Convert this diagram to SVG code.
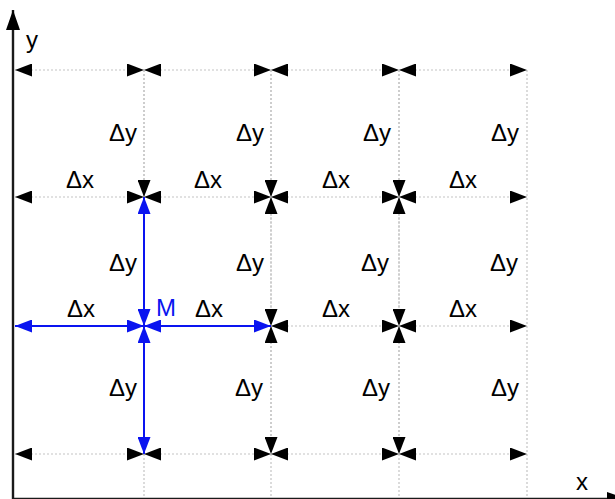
<svg xmlns="http://www.w3.org/2000/svg" width="615" height="499" viewBox="0 0 615 499">
<style>
.grid{stroke:#c4c4c4;stroke-width:1.2;stroke-dasharray:2,2;fill:none}
.dim{stroke:#c4c4c4;stroke-width:1.2;stroke-dasharray:2,2;fill:none}
.blue{stroke:#0a14f0;stroke-width:2;fill:none}
.axis{stroke:#1a1a1a;stroke-width:2.4;fill:none}
text{font-family:"Liberation Sans",Arial,sans-serif;font-size:24px;fill:#000}
.lx{text-anchor:middle}
.m{fill:#0a14f0}
</style>
<defs>
<marker id="ah" viewBox="0 0 17 13" refX="17" refY="6.5" markerWidth="17" markerHeight="13" markerUnits="userSpaceOnUse" orient="auto-start-reverse">
<path d="M0,0 L17,6.5 L0,13 z" fill="#000"/>
</marker>
<marker id="ahb" viewBox="0 0 17 13" refX="17" refY="6.5" markerWidth="17" markerHeight="13" markerUnits="userSpaceOnUse" orient="auto-start-reverse">
<path d="M0,0 L17,6.5 L0,13 z" fill="#0a14f0"/>
</marker>
<marker id="ax" viewBox="0 0 20 14" refX="20" refY="7" markerWidth="20" markerHeight="14" markerUnits="userSpaceOnUse" orient="auto">
<path d="M0,0 L20,7 L0,14 z" fill="#000"/>
</marker>
</defs>
<g id="grid">
<line class="grid" x1="144" y1="70" x2="144" y2="499"/>
<line class="grid" x1="271" y1="70" x2="271" y2="499"/>
<line class="grid" x1="399" y1="70" x2="399" y2="499"/>
<line class="grid" x1="527" y1="70" x2="527" y2="499"/>
</g>
<g id="connectors">
<g marker-start="url(#ah)" marker-end="url(#ah)">
<line class="dim" x1="15" y1="70" x2="144" y2="70"/>
<line class="dim" x1="144" y1="70" x2="271" y2="70"/>
<line class="dim" x1="271" y1="70" x2="399" y2="70"/>
<line class="dim" x1="399" y1="70" x2="527" y2="70"/>
<line class="dim" x1="15" y1="197" x2="144" y2="197"/>
<line class="dim" x1="144" y1="197" x2="271" y2="197"/>
<line class="dim" x1="271" y1="197" x2="399" y2="197"/>
<line class="dim" x1="399" y1="197" x2="527" y2="197"/>
<line class="dim" x1="271" y1="326" x2="399" y2="326"/>
<line class="dim" x1="399" y1="326" x2="527" y2="326"/>
<line class="dim" x1="15" y1="454" x2="144" y2="454"/>
<line class="dim" x1="144" y1="454" x2="271" y2="454"/>
<line class="dim" x1="271" y1="454" x2="399" y2="454"/>
<line class="dim" x1="399" y1="454" x2="527" y2="454"/>
<line class="dim" x1="271" y1="197" x2="271" y2="326"/>
<line class="dim" x1="271" y1="326" x2="271" y2="454"/>
<line class="dim" x1="399" y1="197" x2="399" y2="326"/>
<line class="dim" x1="399" y1="326" x2="399" y2="454"/>
</g>
<g marker-end="url(#ah)">
<line class="dim" x1="144" y1="70" x2="144" y2="197"/>
<line class="dim" x1="271" y1="70" x2="271" y2="197"/>
<line class="dim" x1="399" y1="70" x2="399" y2="197"/>
</g>
<g marker-start="url(#ahb)" marker-end="url(#ahb)">
<line class="blue" x1="144" y1="326" x2="144" y2="197"/>
<line class="blue" x1="144" y1="326" x2="144" y2="454"/>
<line class="blue" x1="144" y1="326" x2="15" y2="326"/>
<line class="blue" x1="144" y1="326" x2="271" y2="326"/>
</g>
</g>
<g id="axes">
<line class="axis" x1="13" y1="499" x2="13" y2="10" marker-end="url(#ax)"/>
<line class="axis" x1="13" y1="499" x2="627" y2="499" marker-end="url(#ax)"/>
<text x="26" y="48">y</text>
<text x="576" y="490">x</text>
</g>
<g id="labels">
<text class="lx" x="123" y="141">Δy</text>
<text class="lx" x="250" y="141">Δy</text>
<text class="lx" x="377" y="141">Δy</text>
<text class="lx" x="505" y="141">Δy</text>
<text class="lx" x="123" y="271">Δy</text>
<text class="lx" x="250" y="271">Δy</text>
<text class="lx" x="375" y="271">Δy</text>
<text class="lx" x="504" y="271">Δy</text>
<text class="lx" x="123" y="396">Δy</text>
<text class="lx" x="249" y="396">Δy</text>
<text class="lx" x="376" y="396">Δy</text>
<text class="lx" x="505" y="396">Δy</text>
<text class="lx" x="80" y="188">Δx</text>
<text class="lx" x="208" y="188">Δx</text>
<text class="lx" x="336" y="188">Δx</text>
<text class="lx" x="463" y="188">Δx</text>
<text class="lx" x="81" y="317">Δx</text>
<text class="lx" x="209" y="317">Δx</text>
<text class="lx" x="336" y="317">Δx</text>
<text class="lx" x="463" y="317">Δx</text>
</g>
<g id="M">
<text class="m" x="156" y="316">M</text>
</g>
</svg>
